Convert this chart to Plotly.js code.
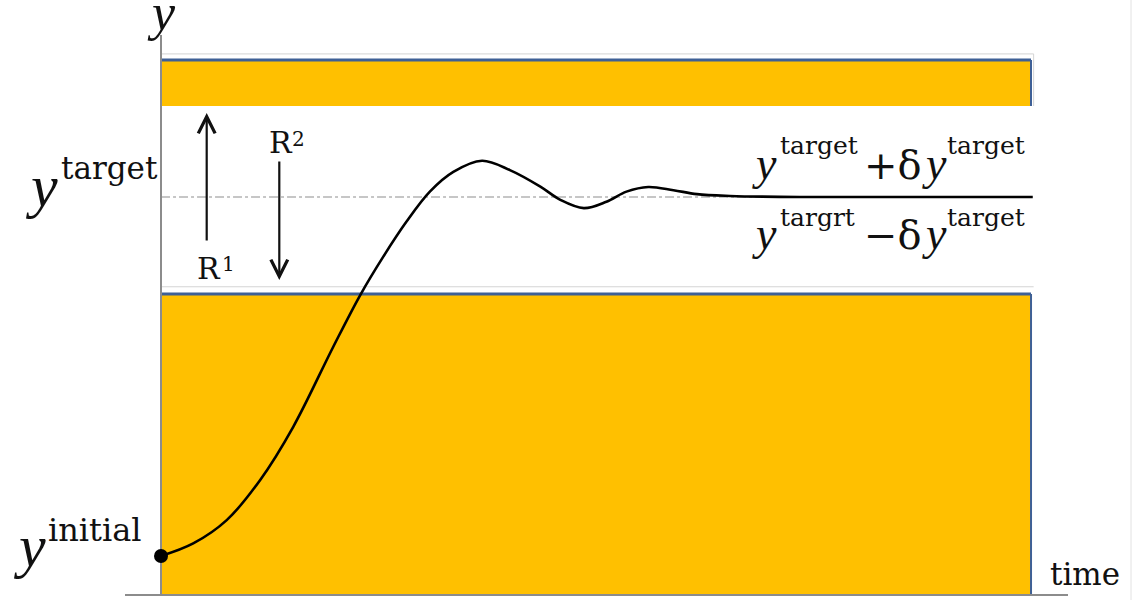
<!DOCTYPE html>
<html>
<head>
<meta charset="utf-8">
<script src="https://cdn.plot.ly/plotly-3.0.1.min.js"></script>
<style>html,body{margin:0;padding:0;background:#fff}</style>
</head>
<body>
<div id="chart" style="width:1142px;height:600px"></div>
<script>
// Controlled output y(t): starts at y_initial, overshoots and settles on y_target
const timeValues     = [0, 0.37, 0.755, 1.14, 1.52, 1.98, 2.29, 2.555, 2.82, 3.09, 3.36, 3.69, 4.01, 4.36, 4.59, 4.86, 5.12, 5.35, 5.60, 5.89, 6.16, 6.54, 7.34, 8.60, 10.02];
const responseValues = [0, 0.035, 0.100, 0.212, 0.360, 0.583, 0.727, 0.834, 0.931, 1.015, 1.070, 1.101, 1.075, 1.029, 0.992, 0.969, 0.987, 1.015, 1.028, 1.019, 1.008, 1.003, 1.0, 1.0, 1.0];

const yInitial = 0;
const yTarget = 1;
// Forbidden bands: below y_target - dy and above y_target + dy
const lowerBound = 0.73;
const upperBound = 1.2535;
const upperBandTop = 1.3816;
const timeEnd = 10;

const xRange = [-0.414, 10.425];
const yRange = [-0.1058, 1.4513];

// Plot frame in page pixels
const L = 125, R = 1068, T = 35, B = 594;
const px = x => (x - L) / (R - L);
const py = y => (B - y) / (B - T);

const SERIF = 'DejaVu Serif';
const MATH = 'Liberation Serif';
const DESCENT = {'DejaVu Serif': 0.236, 'Liberation Serif': 0.216};
const INK = '#111111';
const GOLD = '#FFC000';
const EDGE = '#3F6096';
const SHADE = '#d4d4d4';

// One run of text placed by its left edge and baseline
function run(text, x, baseline, size, family) {
  const fam = family || SERIF;
  return {
    xref: 'paper', yref: 'paper',
    x: px(x), y: py(baseline + DESCENT[fam] * size),
    xanchor: 'left', yanchor: 'bottom',
    text: text,
    font: {family: fam, size: size, color: INK},
    showarrow: false, borderpad: 0
  };
}
// Italic math variable
const mathY = (x, baseline, size) => run('<i>y</i>', x, baseline, size, MATH);

function arrow(x, yHead, yTail) {
  return {
    xref: 'paper', yref: 'paper',
    x: px(x), y: py(yHead),
    ax: 0, ay: yTail - yHead,
    text: '', showarrow: true,
    arrowhead: 5, arrowsize: 1.5, arrowwidth: 2.2, arrowcolor: INK
  };
}

const annotations = [
  // axis names
  mathY(146, 31, 52),
  run('time', 1049, 586, 31),
  // y target
  mathY(24, 207, 60),
  run('target', 60, 180, 31),
  // y initial
  mathY(12, 567, 60),
  run('initial', 47, 542, 32),
  // R1 / R2
  run('R', 196, 280, 30),
  run('1', 221, 272, 20),
  run('R', 268, 154, 30),
  run('2', 291, 147, 20),
  arrow(206.7, 113, 242),
  arrow(279.3, 280, 160),
  // upper and lower bound formulas
  mathY(751, 180, 46),
  run('target', 779, 155, 25),
  run('+δ', 863, 180, 40),
  mathY(921, 180, 46),
  run('target', 946, 155, 25),
  mathY(751, 250, 46),
  run('targrt', 779, 227, 25),
  run('−δ', 863, 250, 40),
  mathY(921, 250, 46),
  run('target', 946, 227, 25)
];

const shapes = [
  // lower forbidden band
  {type: 'rect', layer: 'below', xref: 'x', yref: 'y', x0: 0, x1: timeEnd, y0: yRange[0], y1: lowerBound,
   fillcolor: GOLD, line: {width: 0}},
  {type: 'line', layer: 'below', xref: 'x', yref: 'y', x0: 0, x1: timeEnd + 0.03, y0: lowerBound + 0.02, y1: lowerBound + 0.02,
   line: {color: SHADE, width: 1}},
  {type: 'line', layer: 'below', xref: 'x', yref: 'y', x0: 0, x1: timeEnd, y0: lowerBound, y1: lowerBound,
   line: {color: EDGE, width: 3}},
  {type: 'line', layer: 'below', xref: 'x', yref: 'y', x0: timeEnd, x1: timeEnd, y0: yRange[0], y1: lowerBound,
   line: {color: EDGE, width: 2}},
  // upper forbidden band
  {type: 'rect', layer: 'below', xref: 'x', yref: 'y', x0: 0, x1: timeEnd, y0: upperBound, y1: upperBandTop,
   fillcolor: GOLD, line: {width: 0}},
  {type: 'line', layer: 'below', xref: 'x', yref: 'y', x0: 0, x1: timeEnd + 0.03, y0: upperBandTop + 0.017, y1: upperBandTop + 0.017,
   line: {color: SHADE, width: 1}},
  {type: 'line', layer: 'below', xref: 'x', yref: 'y', x0: timeEnd + 0.03, x1: timeEnd + 0.03, y0: upperBound, y1: upperBandTop + 0.017,
   line: {color: SHADE, width: 1}},
  {type: 'line', layer: 'below', xref: 'x', yref: 'y', x0: 0, x1: timeEnd, y0: upperBandTop, y1: upperBandTop,
   line: {color: EDGE, width: 3}},
  {type: 'line', layer: 'below', xref: 'x', yref: 'y', x0: timeEnd, x1: timeEnd, y0: upperBound, y1: upperBandTop,
   line: {color: EDGE, width: 2}},
  // y target reference
  {type: 'line', layer: 'below', xref: 'x', yref: 'y', x0: 0, x1: timeEnd, y0: yTarget, y1: yTarget,
   line: {color: '#b4b4b4', width: 1.5, dash: 'dashdot'}},
  // page edge
  {type: 'line', xref: 'paper', yref: 'paper', x0: px(1131), x1: px(1131), y0: py(600), y1: py(0),
   line: {color: '#e2e2e2', width: 1}}
];

const traces = [
  {x: timeValues, y: responseValues, type: 'scatter', mode: 'lines',
   line: {color: '#000', width: 2.6, shape: 'spline', smoothing: 1}, hoverinfo: 'skip'},
  {x: [timeValues[0]], y: [yInitial], type: 'scatter', mode: 'markers',
   marker: {color: '#000', size: 14}, cliponaxis: false, hoverinfo: 'skip'}
];

const layout = {
  width: 1142, height: 600,
  margin: {l: L, r: 1142 - R, t: T, b: 600 - B, pad: 0},
  paper_bgcolor: '#fff', plot_bgcolor: '#fff',
  showlegend: false,
  xaxis: {range: xRange, showgrid: false, showticklabels: false, ticks: '',
          showline: true, linecolor: '#8c8c8c', linewidth: 2,
          zeroline: true, zerolinecolor: '#8c8c8c', zerolinewidth: 2, fixedrange: true},
  yaxis: {range: yRange, showgrid: false, showticklabels: false, ticks: '',
          showline: false, zeroline: false, fixedrange: true},
  shapes: shapes,
  annotations: annotations
};

Plotly.newPlot('chart', traces, layout, {displayModeBar: false, staticPlot: true});
</script>
</body>
</html>
